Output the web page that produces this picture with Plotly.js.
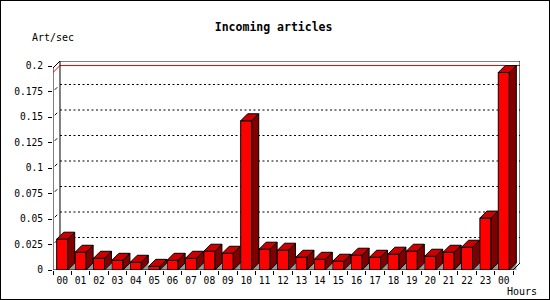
<!DOCTYPE html>
<html>
<head>
<meta charset="utf-8">
<script src="https://cdn.plot.ly/plotly-3.0.1.min.js"></script>
<style>
html,body{margin:0;padding:0;background:#fff;}
#wrap{position:relative;width:550px;height:300px;}
#chart{width:550px;height:300px;}
#border{position:absolute;left:0;top:0;width:550px;height:300px;box-sizing:border-box;border:1px solid #000;pointer-events:none;}
</style>
</head>
<body>
<div id="wrap"><div id="chart"></div><div id="border"></div></div>
<script>
// ---- data ----
var hours = ["00","01","02","03","04","05","06","07","08","09","10","11","12","13","14","15","16","17","18","19","20","21","22","23","00"];
var artPerSec = [0.0302,0.0174,0.0115,0.0095,0.0076,0.0036,0.0095,0.0115,0.0184,0.0164,0.1463,0.0204,0.0194,0.0125,0.0105,0.0086,0.0145,0.0125,0.0155,0.0184,0.0135,0.0174,0.0223,0.0509,0.1936];
var yTickVals = [0,0.025,0.05,0.075,0.1,0.125,0.15,0.175,0.2];
var yTickText = ["0","0.025","0.05","0.075","0.1","0.125","0.15","0.175","0.2"];

// ---- geometry (3D depth effect) ----
var n = hours.length;
var idx = hours.map(function(_, i){ return i; });
var dx = 0.38;      // depth in x units
var dy = 0.00686;   // depth in y units
var yTop = 0.2049;
var hw = 0.3;       // half bar width
var xMin = -0.5, xMax = n - 0.5;

var topX = [], topY = [], sideX = [], sideY = [], shX = [], shY = [];
idx.forEach(function(i){
  var v = artPerSec[i];
  var l = i - hw, r = i + hw;
  topX.push(l, l+dx, r+dx, r, l, null);
  topY.push(v, v+dy, v+dy, v, v, null);
  sideX.push(r, r+dx, r+dx, r, r, null);
  sideY.push(0, dy, v+dy, v, 0, null);
  shX.push(r, r+dx, r+dx, r, null);
  shY.push(0, dy, 0, 0, null);
});

var traces = [
  {type:'scatter', mode:'lines', x:shX, y:shY, fill:'toself', fillcolor:'#999999', line:{width:0, color:'#999999'}, hoverinfo:'skip', showlegend:false},
  {type:'bar', x:idx, y:artPerSec, width:2*hw, marker:{color:'#FF0000', line:{color:'#000', width:1}}, showlegend:false},
  {type:'scatter', mode:'lines', x:sideX, y:sideY, fill:'toself', fillcolor:'#800000', line:{width:1, color:'#000'}, hoverinfo:'skip', showlegend:false},
  {type:'scatter', mode:'lines', x:topX, y:topY, fill:'toself', fillcolor:'#CC0000', line:{width:1, color:'#000'}, hoverinfo:'skip', showlegend:false},
  {type:'scatter', mode:'markers', x:[0], y:[0], xaxis:'x2', marker:{opacity:0}, hoverinfo:'skip', showlegend:false}
];

var shapes = [];
// dotted back-plane grid lines + small diagonal marks
yTickVals.forEach(function(v){
  if (v > 0 && v < 0.2) {
    shapes.push({type:'line', xref:'x', yref:'y', x0:xMin+dx, x1:xMax+dx, y0:v+dy, y1:v+dy, layer:'below', line:{color:'#000', width:1, dash:'2px,2.5px'}});
    shapes.push({type:'line', xref:'x', yref:'y', x0:xMin+dx*0.25, x1:xMin+dx*0.6, y0:v+dy*0.25, y1:v+dy*0.6, layer:'below', line:{color:'#000', width:1}});
  }
});
// max line (red) on back plane
var maxV = Math.max.apply(null, artPerSec);
shapes.push({type:'line', xref:'x', yref:'y', x0:xMin+dx, x1:xMax+dx, y0:maxV+dy, y1:maxV+dy, layer:'below', line:{color:'#FF0000', width:1}});
shapes.push({type:'line', xref:'x', yref:'y', x0:xMin, x1:xMin+dx, y0:maxV, y1:maxV+dy, layer:'below', line:{color:'#FF0000', width:1}});
// back frame
shapes.push({type:'path', xref:'x', yref:'y', path:'M'+(xMin+dx)+','+dy+' L'+(xMin+dx)+','+yTop+' L'+(xMax+dx)+','+yTop+' L'+(xMax+dx)+','+dy, layer:'below', line:{color:'#000', width:1}});
// front axes
shapes.push({type:'path', xref:'x', yref:'y', path:'M'+(xMin+dx)+','+yTop+' L'+xMin+','+(yTop-dy)+' L'+xMin+',0 L'+xMax+',0 L'+(xMax+dx)+','+dy, layer:'above', line:{color:'#000', width:1}});

var layout = {
  width:550, height:300,
  margin:{l:53, r:30, t:61, b:30, pad:0},
  paper_bgcolor:'#fff', plot_bgcolor:'#fff',
  font:{family:'DejaVu Sans Mono, monospace', size:9.6, color:'#000'},
  title:{text:'<b>Incoming articles</b>', font:{family:'DejaVu Sans Mono, monospace', size:11.5, color:'#000'}, xref:'container', yref:'container', x:0.4975, y:0.911, xanchor:'center', yanchor:'middle'},
  bargap:0,
  xaxis:{range:[xMin, xMax+dx], tickmode:'array', tickvals:idx.concat([n]).map(function(i){return i-0.5;}), ticks:'outside', ticklen:4, tickcolor:'#000', tickwidth:1, showticklabels:false, showgrid:false, zeroline:false, showline:false, fixedrange:true},
  xaxis2:{overlaying:'x', matches:'x', side:'bottom', anchor:'y', tickmode:'array', tickvals:idx, ticktext:hours, ticks:'', showgrid:false, zeroline:false, showline:false, ticklabelstandoff:3, tickfont:{family:'DejaVu Sans Mono, monospace', size:9.6, color:'#000'}},
  yaxis:{range:[0, yTop], tickmode:'array', tickvals:yTickVals, ticktext:yTickText, ticks:'outside', ticklen:4, tickcolor:'#000', showgrid:false, zeroline:false, showline:false, ticklabelstandoff:3, tickfont:{family:'DejaVu Sans Mono, monospace', size:9.6, color:'#000'}},
  shapes:shapes,
  annotations:[
    {text:'Art/sec', xref:'paper', yref:'paper', x:-0.049, y:1.113, xanchor:'left', yanchor:'middle', showarrow:false, font:{family:'DejaVu Sans Mono, monospace', size:10, color:'#000'}},
    {text:'Hours', xref:'paper', yref:'paper', x:0.967, y:-0.103, xanchor:'left', yanchor:'middle', showarrow:false, font:{family:'DejaVu Sans Mono, monospace', size:10, color:'#000'}}
  ]
};

Plotly.newPlot('chart', traces, layout, {staticPlot:true, displayModeBar:false});
</script>
</body>
</html>
